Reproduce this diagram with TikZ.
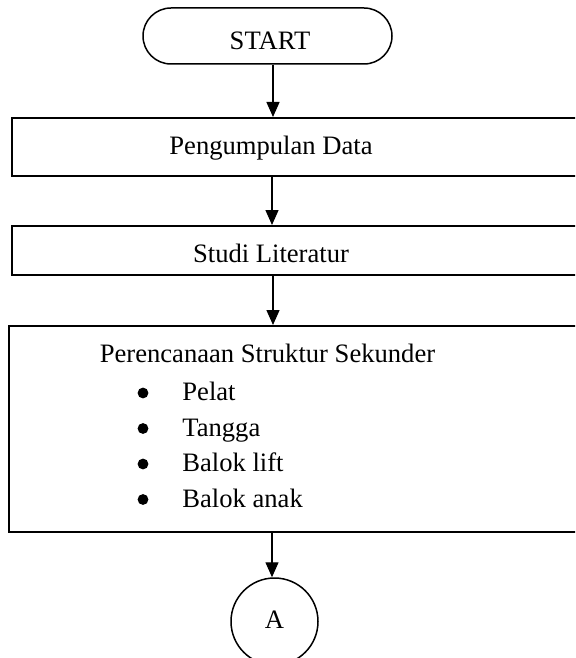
\documentclass[tikz,border=0pt]{standalone}
\usepackage{fontspec}
\setmainfont{Liberation Serif}
\usetikzlibrary{arrows.meta,shapes.misc}
\begin{document}
\begin{tikzpicture}[x=0.5pt,y=-0.5pt,
  box/.style={draw,line width=1.15pt,rectangle,inner sep=0pt,anchor=north west,minimum width=300pt},
  arr/.style={line width=0.7pt,-{Triangle[length=7.5pt,width=6.5pt]}},
  lbl/.style={inner sep=0pt,anchor=base,font=\fontsize{13.3}{16}\selectfont},
  item/.style={lbl,anchor=base west},
  bul/.style={fill=black}
  ]
\useasboundingbox (0,0) rectangle (575,658);
\begin{scope}
\clip (0,0) rectangle (575,658);
% terminator
\node[draw,line width=0.75pt,rounded rectangle,minimum width=124.5pt,minimum height=28pt,inner sep=0pt] (start) at (267.5,36) {};
\node[lbl] (tstart) at (270,50) {START};
% boxes
\node[box,minimum height=29pt] (b1) at (11,117) {};
\node[lbl] (t1) at (271,155) {Pengumpulan Data};
\node[box,minimum height=24.5pt] (b2) at (11,225) {};
\node[lbl] (t2) at (271,262) {Studi Literatur};
\node[box,line width=0.9pt,minimum height=103pt] (b3) at (8,325) {};
\node[lbl] (t3) at (267.5,362) {Perencanaan Struktur Sekunder};
\fill[bul] (143,393) circle (2.7pt);
\node[item] (i1) at (182,400) {Pelat};
\fill[bul] (143,428.5) circle (2.7pt);
\node[item] (i2) at (182,436) {Tangga};
\fill[bul] (143,464) circle (2.7pt);
\node[item] (i3) at (182,471.5) {Balok lift};
\fill[bul] (143,499.5) circle (2.7pt);
\node[item] (i4) at (182,507) {Balok anak};
% connector circle
\node[draw,circle,line width=0.75pt,minimum size=43.5pt,inner sep=0pt] (ca) at (274.5,621.5) {};
\node[lbl] (ta) at (274.5,628) {A};
% arrows
\coordinate (ax) at (273,0);
\coordinate (bx) at (272,0);
\draw[arr] (ax |- start.south) -- (ax |- b1.north);
\draw[arr] (bx |- b1.south) -- (bx |- b2.north);
\draw[arr] (ax |- b2.south) -- (ax |- b3.north);
\draw[arr] (bx |- b3.south) -- (bx |- ca.north);
\end{scope}
\end{tikzpicture}
\end{document}
